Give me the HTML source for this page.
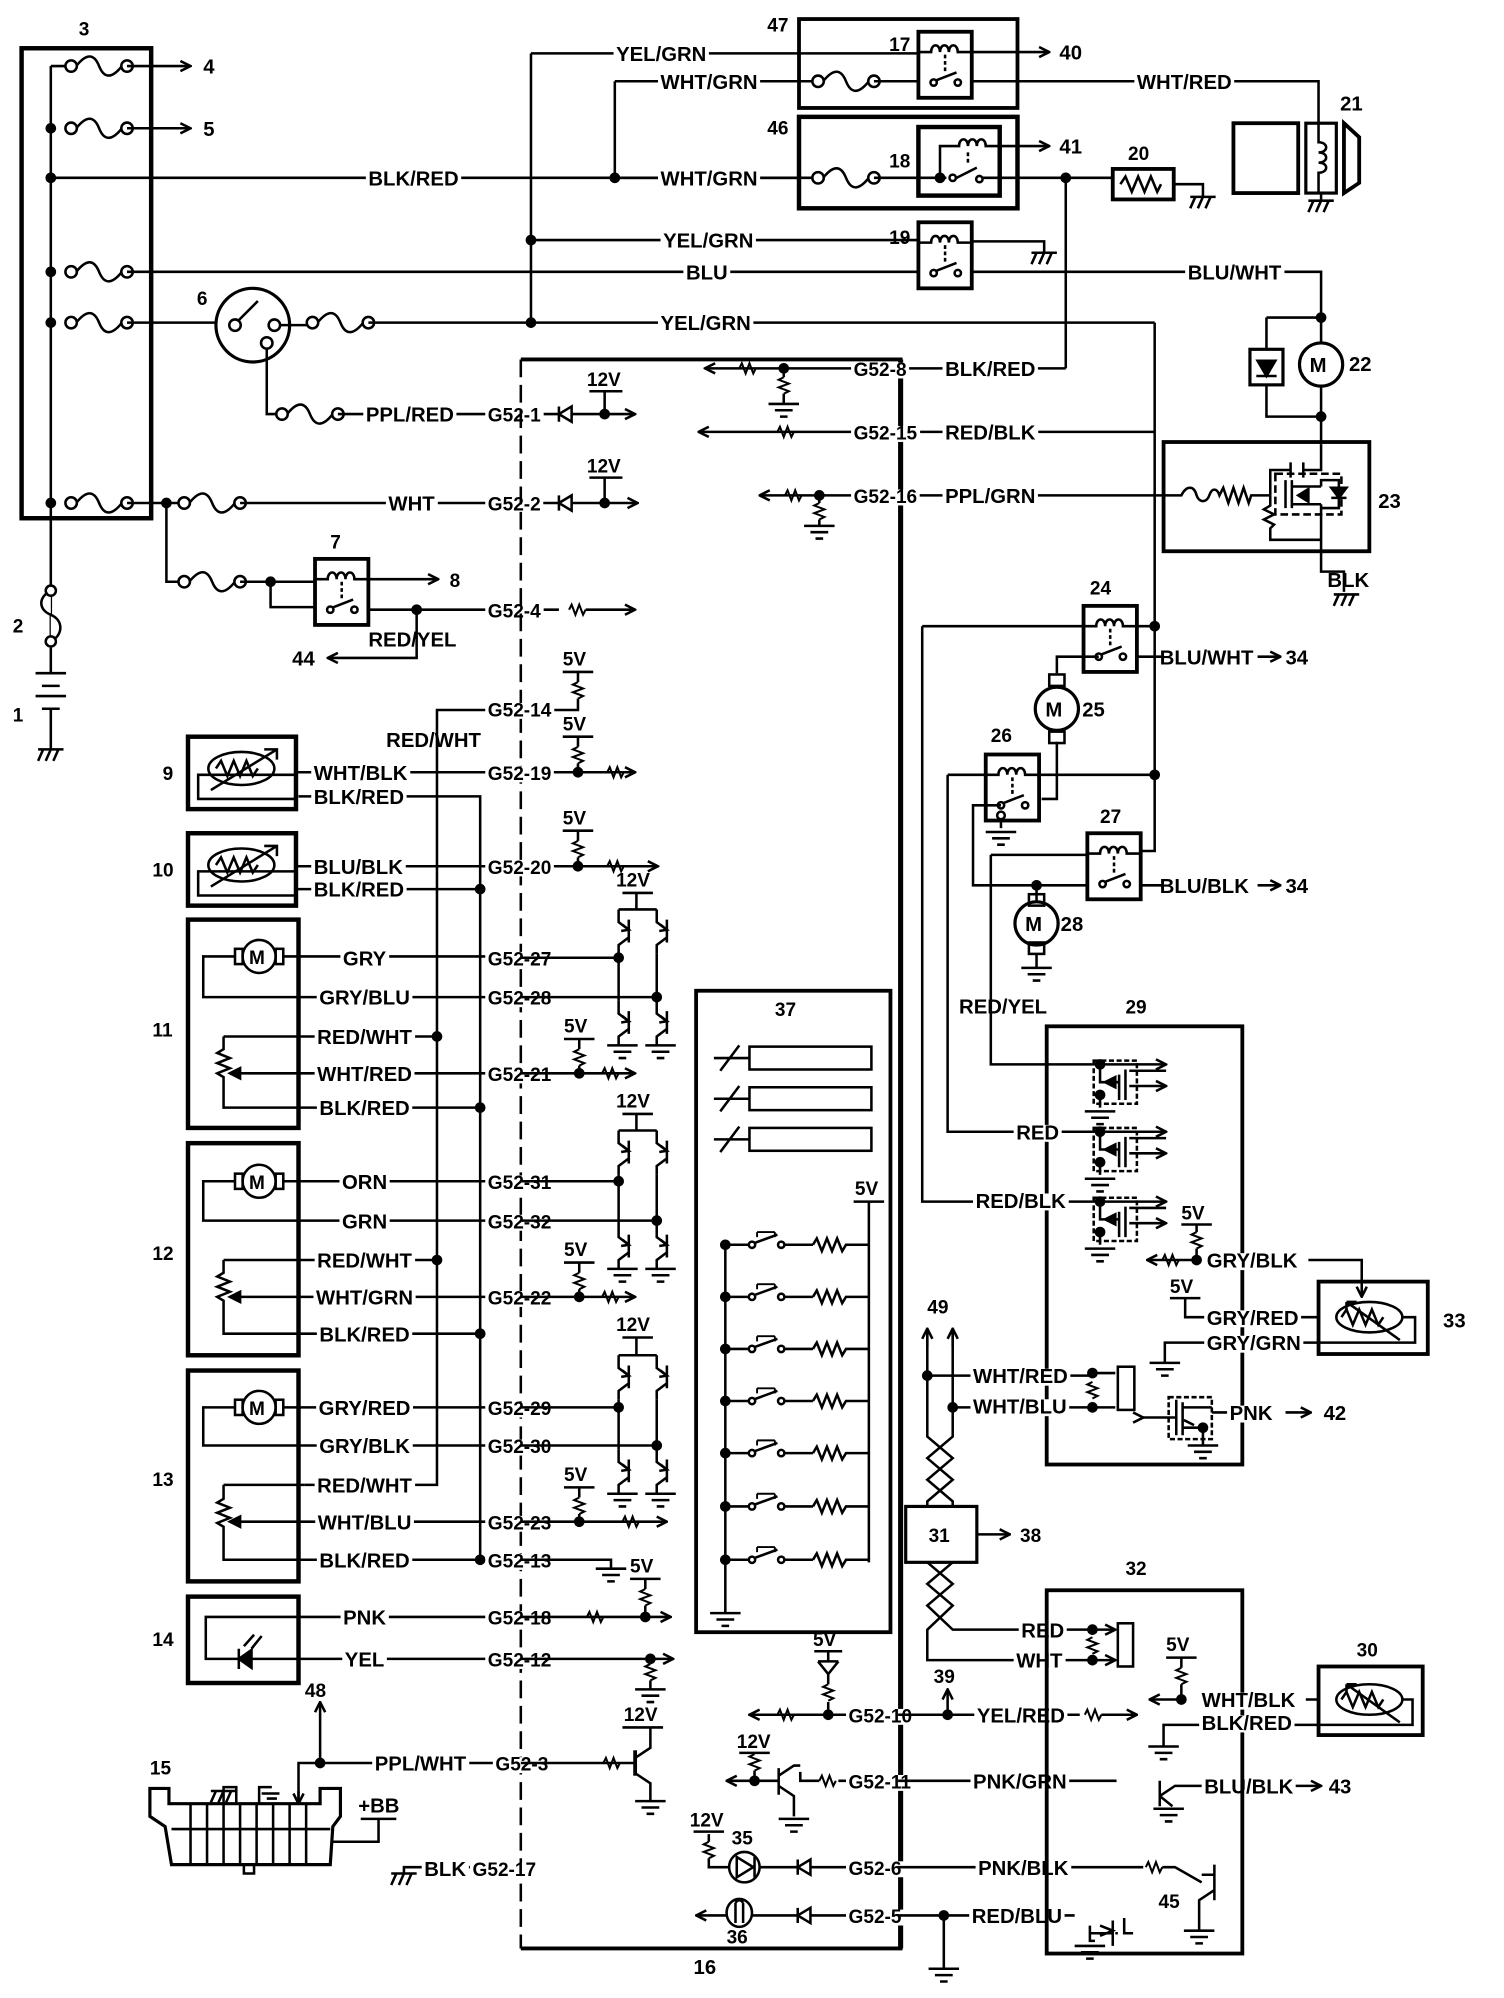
<!DOCTYPE html>
<html><head><meta charset="utf-8"><style>
html,body{margin:0;padding:0;background:#fff}
svg{display:block}
text{font-family:"Liberation Sans",sans-serif;font-weight:bold;font-size:16px;fill:#000;stroke:none}
.s{font-size:15px}
</style></head><body>
<svg id="sv" width="1504" height="1998" viewBox="0 0 1184 1573" preserveAspectRatio="none" xmlns="http://www.w3.org/2000/svg">
<defs>
<marker id="a" markerWidth="10" markerHeight="10" refX="9" refY="5" orient="auto" markerUnits="userSpaceOnUse"><path d="M1 1 L9 5 L1 9" fill="none" stroke="#000" stroke-width="2"/></marker>
<g id="fu"><path d="M4 0 C12 -10 18 -10 22 0 S32 10 40 0" fill="none"/><circle cx="0" cy="0" r="4.5" fill="#fff"/><circle cx="44" cy="0" r="4.5" fill="#fff"/></g>
<g id="rl"><rect x="0" y="0" width="42" height="52" fill="#fff" stroke-width="3"/><path d="M0 16 H10 c0-7 7-7 7 0 c0-7 7-7 7 0 c0-7 7-7 7 0 H42" fill="none"/><path d="M21 18 V32" stroke-dasharray="3 2" fill="none"/><path d="M12 39 L30 32" fill="none"/><circle cx="12" cy="40" r="2.5" fill="#fff"/><circle cx="31" cy="40" r="2.5" fill="#fff"/></g>
<g id="g"><path d="M-12 0 H12 M-7 5 H7 M-3 10 H3" fill="none"/></g>
<g id="cg"><path d="M-10 0 H10 M-6 0 l-4 9 M0 0 l-4 9 M6 0 l-4 9" fill="none"/></g>
<g id="rw"><path d="M0 0 l2 -4 l3 8 l3 -8 l3 8 l2 -4" fill="none" stroke-width="1.6"/></g>
<g id="rv"><path d="M0 0 l-4 2 l8 3 l-8 3 l8 3 l-4 2" fill="none" stroke-width="1.6"/></g>
<g id="dt"><circle r="4.2" fill="#000" stroke="none"/></g>
<g id="sen"><rect x="0" y="0" width="85" height="57" fill="#fff" stroke-width="3.5"/><ellipse cx="42" cy="25" rx="26" ry="13" fill="none"/><path d="M22 25 l4 -6 l5 12 l5 -12 l5 12 l5 -12 l5 12 l4 -6" fill="none"/><path d="M18 42 L70 10 M60 10 h10 v8" fill="none"/><path d="M85 30 H8 V49 H85" fill="none"/></g>
<g id="tr"><path d="M0 0 V10 l8 6 M8 8 V26 M8 22 l-8 6 V35" fill="none"/><path d="M3 12 l5 4 l-6 1" fill="none"/></g>
</defs>
<g stroke="#000" stroke-width="2" fill="none">

<rect x="17" y="38" width="102" height="370" stroke-width="3.5"/>
<text x="62" y="28" class="s">3</text>
<path d="M40 52 V510"/>
<path d="M40 52 H56"/>
<use href="#fu" x="56" y="52"/><path d="M100 52 H150" marker-end="url(#a)"/><text x="160" y="58">4</text>
<use href="#dt" x="40" y="101"/><use href="#fu" x="56" y="101"/><path d="M100 101 H150" marker-end="url(#a)"/><text x="160" y="107">5</text>
<use href="#dt" x="40" y="140"/><path d="M40 140 H628"/>
<use href="#dt" x="40" y="214"/><use href="#fu" x="56" y="214"/><path d="M100 214 H723"/>
<use href="#dt" x="40" y="254"/><use href="#fu" x="56" y="254"/><path d="M100 254 H180"/>
<use href="#dt" x="40" y="396"/><use href="#fu" x="56" y="396"/><path d="M100 396 H140"/>
<circle cx="199" cy="256" r="29" stroke-width="2.5" fill="#fff"/>
<circle cx="185" cy="256" r="4.5"/><path d="M188 252 L203 237"/>
<circle cx="216" cy="256" r="4.5"/><circle cx="210" cy="270" r="4.5"/>
<path d="M221 256 H246"/><use href="#fu" x="246" y="254"/><path d="M290 254 H909"/>
<text x="155" y="240" class="s">6</text>
<path d="M210 275 V326 H222"/><use href="#fu" x="222" y="326"/>
<path d="M266 326 H440"/>
<text x="288" y="332" class="m">PPL/RED</text><text x="384" y="332" class="m s" >G52-1</text>
<use href="#dt" x="131" y="396"/><use href="#fu" x="145" y="396"/><path d="M189 396 H440"/>
<text x="324" y="402" class="m" text-anchor="middle">WHT</text><text x="384" y="402" class="m s">G52-2</text>
<path d="M131 396 V458 H145"/><use href="#fu" x="145" y="458"/><path d="M189 458 H248"/>
<use href="#dt" x="213" y="458"/><path d="M213 458 V478 H248"/>
<use href="#rl" x="248" y="440"/>
<path d="M290 456 H345" marker-end="url(#a)"/><text x="354" y="462" class="s">8</text>
<text x="260" y="432" class="s">7</text>
<path d="M290 480 H440"/><use href="#dt" x="328" y="480"/><use href="#rw" x="448" y="480"/><path d="M461 480 H500" marker-end="url(#a)"/>
<text x="384" y="486" class="m s">G52-4</text>
<path d="M328 480 V518 H258" marker-end="url(#a)"/><text x="230" y="524">44</text>
<text x="290" y="509">RED/YEL</text>
<path d="M40 465 C30 470 30 480 40 484 C50 488 50 500 40 505" fill="#fff"/>
<circle cx="40" cy="465" r="4" fill="#fff"/><circle cx="40" cy="505" r="4" fill="#fff"/>
<path d="M40 510 V530 M28 530 H52 M33 540 H47 M28 548 H52 M33 558 H47 M40 558 V590"/>
<use href="#cg" x="40" y="590"/>
<text x="10" y="498" class="s">2</text><text x="10" y="568" class="s">1</text>

<path d="M418 42 V254"/><use href="#dt" x="418" y="189"/><use href="#dt" x="418" y="254"/>
<path d="M418 42 H723"/>
<text x="485" y="48" class="m">YEL/GRN</text>
<path d="M484 64 V140"/><use href="#dt" x="484" y="140"/>
<path d="M484 64 H640"/><text x="520" y="70" class="m">WHT/GRN</text>
<text x="290" y="146" class="m">BLK/RED</text>
<path d="M484 140 H640"/><text x="520" y="146" class="m">WHT/GRN</text>
<rect x="629" y="15" width="172" height="70" stroke-width="3"/>
<rect x="629" y="92" width="172" height="72" stroke-width="3.5"/>
<text x="604" y="25" class="s">47</text><text x="604" y="106" class="s">46</text>
<use href="#fu" x="644" y="64"/><path d="M688 64 H723"/>
<use href="#fu" x="644" y="140"/><path d="M688 140 H723"/>
<use href="#rl" x="723" y="25"/>
<text x="700" y="40" class="s">17</text>
<path d="M765 41 H826" marker-end="url(#a)"/><text x="834" y="47">40</text>
<path d="M765 64 H1038 V97"/><text x="895" y="70" class="m">WHT/RED</text>
<rect x="723" y="100" width="64" height="54" stroke-width="3.5" fill="#fff"/>
<text x="700" y="132" class="s">18</text>
<use href="#dt" x="740" y="140"/><path d="M723 140 H740 V115 H755 c0-7 7-7 7 0 c0-7 7-7 7 0 c0-7 7-7 7 0 H826" marker-end="url(#a)"/>
<path d="M762 120 V130" stroke-dasharray="3 2"/>
<path d="M740 140 H745 M753 140 L769 132 M772 140 H839"/><circle cx="750" cy="140" r="2.5" fill="#fff"/><circle cx="771" cy="141" r="2.5" fill="#fff"/>
<text x="834" y="121">41</text>
<use href="#dt" x="839" y="140"/><path d="M839 140 H876 M839 140 V290"/>
<rect x="876" y="133" width="48" height="24" stroke-width="3"/>
<path d="M882 145 l4 -6 l5 12 l5 -12 l5 12 l5 -12 l5 12 l3 -6"/>
<path d="M924 145 H947 V155"/><use href="#cg" x="947" y="155"/>
<text x="888" y="126" class="s">20</text>
<rect x="971" y="97" width="51" height="55" stroke-width="3"/>
<rect x="1028" y="97" width="24" height="55" stroke-width="2.5"/>
<path d="M1038 97 V112 c8 0 8 8 0 8 c8 0 8 8 0 8 c8 0 8 8 0 8 V152"/>
<path d="M1040 152 V158"/><use href="#cg" x="1040" y="158"/>
<path d="M1058 97 L1070 108 V144 L1058 152 Z" stroke-width="3"/>
<text x="1055" y="87">21</text>
<use href="#rl" x="723" y="175"/><text x="700" y="192" class="s">19</text>
<path d="M418 189 H723"/><text x="522" y="195" class="m">YEL/GRN</text>
<path d="M765 190 H822 V199"/><use href="#cg" x="822" y="199"/>
<text x="540" y="220" class="m" >BLU</text>
<path d="M765 214 H1040 V250"/><text x="935" y="220" class="m">BLU/WHT</text>
<text x="520" y="260" class="m">YEL/GRN</text>
<use href="#dt" x="1040" y="250"/><path d="M997 250 H1040 V270"/>
<path d="M997 250 V328 H1040"/>
<rect x="984" y="275" width="26" height="28" stroke-width="2.5" fill="#fff"/>
<path d="M989 296 H1005 M997 296 L990 284 H1004 Z" fill="#000"/>
<circle cx="1040" cy="287" r="17" stroke-width="2.5" fill="#fff"/><text x="1031" y="293">M</text>
<path d="M1040 304 V350"/><use href="#dt" x="1040" y="328"/>
<text x="1062" y="292">22</text>
<rect x="916" y="348" width="162" height="86" stroke-width="3"/>
<text x="1085" y="400">23</text>
<path d="M707 390 H930 c4 -8 10 -8 12 0 c2 6 8 6 10 0 c2 -6 6 -6 8 0 l3 -6 l4 12 l4 -12 l4 12 l4 -12 l4 12 l2 -6 H1000"/>
<path d="M1000 390 V370 H1016 M1026 370 H1040 V350 M1016 364 V376 M1026 364 V376"/>
<rect x="1004" y="373" width="52" height="32" stroke-dasharray="6 3"/>
<path d="M1012 378 V400 M1017 378 V400 M1017 383 H1040 M1017 397 H1040 M1040 397 V420 M1040 383 V378 H1054 V400 H1040"/>
<path d="M1048 392 H1060 M1054 392 L1048 384 H1060 Z" fill="#000"/>
<path d="M1022 390 L1030 385 V395 Z" fill="#000"/>
<path d="M1000 390 V398 l-5 3 l8 4 l-8 4 l8 4 l-3 3 V425 H1040"/>
<path d="M1040 420 V450 H1058 V466"/><text x="1045" y="462">BLK</text><use href="#cg" x="1060" y="468"/>

<path d="M410 283 H709 V1534 H410" stroke-width="3"/>
<path d="M410 283 V1534" stroke-width="2" stroke-dasharray="14 6"/>
<path d="M709 283 V1534" stroke-width="4"/>
<text x="546" y="1554">16</text>
<path d="M707 290 H839"/><text x="744" y="296" class="m">BLK/RED</text>
<path d="M700 290 H555" marker-end="url(#a)"/><use href="#rw" x="582" y="290"/><use href="#dt" x="617" y="290"/>
<use href="#rv" x="617" y="297"/><path d="M617 292 V297 M617 310 V318"/><use href="#g" x="617" y="318"/>
<text x="672" y="296" class="m s">G52-8</text>
<path d="M707 340 H909"/><path d="M700 340 H550" marker-end="url(#a)"/><use href="#rw" x="612" y="340"/>
<text x="744" y="346" class="m">RED/BLK</text><text x="672" y="346" class="m s">G52-15</text>
<path d="M700 390 H598" marker-end="url(#a)"/><use href="#rw" x="618" y="390"/><use href="#dt" x="645" y="390"/>
<use href="#rv" x="645" y="396"/><path d="M645 390 V396 M645 409 V414"/><use href="#g" x="645" y="414"/>
<text x="744" y="396" class="m">PPL/GRN</text><text x="672" y="396" class="m s">G52-16</text>
<path d="M440 320 V332 M440 326 L450 320 V332 Z" fill="#fff"/><path d="M450 326 H500" marker-end="url(#a)"/><use href="#dt" x="476" y="326"/><path d="M476 326 V308 M464 308 H490"/><text x="462" y="304" class="s">12V</text>
<path d="M440 390 V402 M440 396 L450 390 V402 Z" fill="#fff"/><path d="M450 396 H502" marker-end="url(#a)"/><use href="#dt" x="476" y="396"/><path d="M476 396 V376 M464 376 H490"/><text x="462" y="372" class="s">12V</text>
<path d="M443 529 H467 M455 529 V537"/><use href="#rv" x="455" y="537"/><path d="M455 550 V559 H344 V1169 H240"/>
<text x="443" y="524" class="s">5V</text>
<text x="384" y="564" class="m s">G52-14</text>
<text x="304" y="588">RED/WHT</text>
<path d="M235 627 H378 V1228"/>
<use href="#sen" x="148" y="580"/><text x="128" y="614" class="s">9</text>
<path d="M233 608 H410"/><text x="247" y="614" class="m">WHT/BLK</text><text x="247" y="633" class="m">BLK/RED</text>
<path d="M410 608 H500" marker-end="url(#a)"/><use href="#dt" x="455" y="608"/><use href="#rw" x="478" y="608"/>
<path d="M443 580 H467 M455 580 V588 M455 601 V608"/><use href="#rv" x="455" y="588"/><text x="443" y="575" class="s">5V</text>
<text x="384" y="614" class="m s">G52-19</text>
<use href="#sen" x="148" y="656"/><text x="120" y="690" class="s">10</text>
<path d="M233 682 H410"/><text x="247" y="688" class="m">BLU/BLK</text>
<path d="M233 700 H378"/><use href="#dt" x="378" y="700"/><text x="247" y="706" class="m">BLK/RED</text>
<path d="M410 682 H518" marker-end="url(#a)"/><use href="#dt" x="455" y="682"/><use href="#rw" x="478" y="682"/>
<path d="M443 654 H467 M455 654 V662 M455 675 V682"/><use href="#rv" x="455" y="662"/><text x="443" y="649" class="s">5V</text>
<text x="384" y="688" class="m s">G52-20</text>

<rect x="148" y="724" width="87" height="164" stroke-width="3.5"/><text x="120" y="816" class="s">11</text>
<circle cx="204" cy="753" r="13"/><text x="196" y="759" class="s">M</text>
<rect x="185" y="747" width="6" height="12"/><rect x="217" y="747" width="6" height="12"/>
<path d="M185 753 H160 V785 H410 M223 753 H410"/>
<text x="287" y="760" class="m" text-anchor="middle">GRY</text><text x="287" y="791" class="m" text-anchor="middle">GRY/BLU</text>
<path d="M176 816 H344"/><use href="#dt" x="344" y="816"/><text x="287" y="822" class="m" text-anchor="middle">RED/WHT</text>
<path d="M176 816 V826 l-5 3 l10 4 l-10 4 l10 4 l-10 4 l5 3 V872 H378 M181 845 H410"/><path d="M181 845 l8 -4 v8 z" fill="#000"/>
<text x="287" y="851" class="m" text-anchor="middle">WHT/RED</text>
<use href="#dt" x="378" y="872"/><text x="287" y="878" class="m" text-anchor="middle">BLK/RED</text>
<text x="384" y="760" class="m s">G52-27</text><text x="384" y="791" class="m s">G52-28</text><text x="384" y="851" class="m s">G52-21</text>
<path d="M410 754 H487 M410 785 H517"/><use href="#dt" x="487" y="754"/><use href="#dt" x="517" y="785"/>
<path d="M490 703 H514 M501 703 V716 H487 M501 716 H517"/><text x="485" y="698" class="s">12V</text>
<use href="#tr" x="487" y="716"/><use href="#tr" x="517" y="716"/>
<path d="M487 751 V788 M517 751 V790"/>
<use href="#tr" x="487" y="788"/><use href="#tr" x="517" y="788"/>
<use href="#g" x="490" y="823"/><use href="#g" x="520" y="823"/>
<path d="M410 845 H500" marker-end="url(#a)"/><use href="#dt" x="456" y="845"/><use href="#rw" x="474" y="845"/>
<path d="M444 818 H468 M456 818 V826 M456 839 V845"/><use href="#rv" x="456" y="826"/><text x="444" y="813" class="s">5V</text>

<rect x="148" y="900" width="87" height="167" stroke-width="3.5"/><text x="120" y="992" class="s">12</text>
<circle cx="204" cy="930" r="13"/><text x="196" y="936" class="s">M</text>
<rect x="185" y="924" width="6" height="12"/><rect x="217" y="924" width="6" height="12"/>
<path d="M185 930 H160 V961 H410 M223 930 H410"/>
<text x="287" y="936" class="m" text-anchor="middle">ORN</text><text x="287" y="967" class="m" text-anchor="middle">GRN</text>
<path d="M176 992 H344"/><use href="#dt" x="344" y="992"/><text x="287" y="998" class="m" text-anchor="middle">RED/WHT</text>
<path d="M176 992 V1002 l-5 3 l10 4 l-10 4 l10 4 l-10 4 l5 3 V1050 H378 M181 1021 H410"/><path d="M181 1021 l8 -4 v8 z" fill="#000"/>
<text x="287" y="1027" class="m" text-anchor="middle">WHT/GRN</text>
<use href="#dt" x="378" y="1050"/><text x="287" y="1056" class="m" text-anchor="middle">BLK/RED</text>
<text x="384" y="936" class="m s">G52-31</text><text x="384" y="967" class="m s">G52-32</text><text x="384" y="1027" class="m s">G52-22</text>
<path d="M410 930 H487 M410 961 H517"/><use href="#dt" x="487" y="930"/><use href="#dt" x="517" y="961"/>
<path d="M490 877 H514 M501 877 V890 H487 M501 890 H517"/><text x="485" y="872" class="s">12V</text>
<use href="#tr" x="487" y="890"/><use href="#tr" x="517" y="890"/>
<path d="M487 925 V964 M517 925 V964"/>
<use href="#tr" x="487" y="964"/><use href="#tr" x="517" y="964"/>
<use href="#g" x="490" y="999"/><use href="#g" x="520" y="999"/>
<path d="M410 1021 H500" marker-end="url(#a)"/><use href="#dt" x="456" y="1021"/><use href="#rw" x="474" y="1021"/>
<path d="M444 994 H468 M456 994 V1002 M456 1015 V1021"/><use href="#rv" x="456" y="1002"/><text x="444" y="989" class="s">5V</text>

<rect x="148" y="1079" width="87" height="166" stroke-width="3.5"/><text x="120" y="1170" class="s">13</text>
<circle cx="204" cy="1108" r="13"/><text x="196" y="1114" class="s">M</text>
<rect x="185" y="1102" width="6" height="12"/><rect x="217" y="1102" width="6" height="12"/>
<path d="M185 1108 H160 V1138 H410 M223 1108 H410"/>
<text x="287" y="1114" class="m" text-anchor="middle">GRY/RED</text><text x="287" y="1144" class="m" text-anchor="middle">GRY/BLK</text>
<path d="M176 1169 H240"/><text x="287" y="1175" class="m" text-anchor="middle">RED/WHT</text>
<path d="M176 1169 V1180 l-5 3 l10 4 l-10 4 l10 4 l-10 4 l5 3 V1228 H410 M181 1198 H410"/><path d="M181 1198 l8 -4 v8 z" fill="#000"/>
<text x="287" y="1204" class="m" text-anchor="middle">WHT/BLU</text>
<use href="#dt" x="378" y="1228"/><text x="287" y="1234" class="m" text-anchor="middle">BLK/RED</text>
<text x="384" y="1114" class="m s">G52-29</text><text x="384" y="1144" class="m s">G52-30</text><text x="384" y="1204" class="m s">G52-23</text><text x="384" y="1234" class="m s">G52-13</text>
<path d="M410 1108 H487 M410 1138 H517"/><use href="#dt" x="487" y="1108"/><use href="#dt" x="517" y="1138"/>
<path d="M490 1053 H514 M501 1053 V1067 H487 M501 1067 H517"/><text x="485" y="1048" class="s">12V</text>
<use href="#tr" x="487" y="1067"/><use href="#tr" x="517" y="1067"/>
<path d="M487 1102 V1141 M517 1102 V1141"/>
<use href="#tr" x="487" y="1141"/><use href="#tr" x="517" y="1141"/>
<use href="#g" x="490" y="1176"/><use href="#g" x="520" y="1176"/>
<path d="M410 1198 H525" marker-end="url(#a)"/><use href="#dt" x="456" y="1198"/><use href="#rw" x="490" y="1198"/>
<path d="M444 1171 H468 M456 1171 V1179 M456 1192 V1198"/><use href="#rv" x="456" y="1179"/><text x="444" y="1166" class="s">5V</text>
<path d="M410 1228 H481 V1235"/><use href="#g" x="481" y="1235"/>

<rect x="148" y="1257" width="87" height="68" stroke-width="3.5"/><text x="120" y="1296" class="s">14</text>
<path d="M235 1273 H162 V1306 H235"/>
<path d="M188 1298 V1314 M188 1306 L198 1299 V1313 Z" fill="#000"/><path d="M192 1296 l8 -9 M198 1298 l8 -10"/>
<path d="M235 1273 H410 M235 1306 H410"/>
<text x="287" y="1279" class="m" text-anchor="middle">PNK</text><text x="287" y="1312" class="m" text-anchor="middle">YEL</text>
<text x="384" y="1279" class="m s">G52-18</text><text x="384" y="1312" class="m s">G52-12</text>
<path d="M410 1273 H528" marker-end="url(#a)"/><use href="#rw" x="462" y="1273"/><use href="#dt" x="508" y="1273"/>
<path d="M496 1243 H520 M508 1243 V1251 M508 1264 V1273"/><use href="#rv" x="508" y="1251"/><text x="496" y="1238" class="s">5V</text>
<path d="M410 1306 H530" marker-end="url(#a)"/><use href="#dt" x="512" y="1306"/>
<path d="M512 1306 V1310"/><use href="#rv" x="512" y="1310"/><path d="M512 1323 V1330"/><use href="#g" x="512" y="1330"/>

<text x="118" y="1397" class="s">15</text>
<path d="M118 1408 H133 V1420 H252 V1408 H268 V1430 L262 1438 L260 1468 H135 L130 1438 L118 1430 Z" stroke-width="2.5" fill="#fff"/>
<path d="M135 1440 H260 M150 1420 V1468 M163 1420 V1468 M176 1420 V1468 M189 1420 V1468 M202 1420 V1468 M215 1420 V1468 M228 1420 V1468 M241 1420 V1468"/>
<path d="M192 1468 V1475 H200 V1468"/>
<path d="M176 1420 V1407 H186 V1420 M204 1420 V1407 H214"/><use href="#cg" x="176" y="1410"/><path d="M206 1412 H220 M210 1416 H218"/>
<path d="M235 1420 V1388 H410"/><path d="M235 1410 V1420" marker-end="url(#a)"/>
<use href="#dt" x="252" y="1388"/><path d="M252 1388 V1340" marker-end="url(#a)"/><text x="240" y="1336" class="s">48</text>
<text x="295" y="1394" class="m">PPL/WHT</text><text x="390" y="1394" class="m s">G52-3</text>
<text x="282" y="1427">+BB</text><path d="M284 1432 H312 M298 1432 V1450 H262"/>
<path d="M410 1388 H500 V1380 M500 1396 l12 8 V1418 M500 1384 l12 -8 V1360 M490 1360 H522"/><use href="#rw" x="475" y="1388"/><path d="M500 1378 V1398" stroke-width="3"/>
<use href="#g" x="512" y="1418"/><text x="491" y="1355" class="s">12V</text>
<use href="#cg" x="318" y="1475"/><path d="M318 1475 V1470 H410"/>
<text x="334" y="1477" class="m">BLK</text><text x="372" y="1477" class="m s">G52-17</text>

<rect x="548" y="780" width="153" height="505" stroke-width="3"/>
<text x="610" y="800" class="s">37</text>
<rect x="590" y="824" width="96" height="18" stroke-width="2"/><path d="M562 833 H590 M567 843 L582 823"/>
<rect x="590" y="856" width="96" height="18" stroke-width="2"/><path d="M562 865 H590 M567 875 L582 855"/>
<rect x="590" y="888" width="96" height="18" stroke-width="2"/><path d="M562 897 H590 M567 907 L582 887"/>
<text x="673" y="941" class="s">5V</text><path d="M672 946 H696 M684 946 V1230"/>
<path d="M571 980 V1270"/><use href="#g" x="571" y="1270"/>
<g id="sw"><path d="M571 980 H590 M590 980 L612 972 M617 980 H640"/><circle cx="592" cy="980" r="2.5" fill="#fff"/><circle cx="615" cy="980" r="2.5" fill="#fff"/><path d="M596 970 V974 M610 970 V974 M596 970 H610" stroke-width="1.5"/><path d="M640 980 l3 -5 l4 10 l4 -10 l4 10 l4 -10 l4 10 l3 -5 H684"/><use href="#dt" x="571" y="980"/></g>
<use href="#sw" y="41"/><use href="#sw" y="82"/><use href="#sw" y="123"/><use href="#sw" y="164"/><use href="#sw" y="206"/><use href="#sw" y="248"/>

<path d="M700 1350 H590" marker-end="url(#a)"/><use href="#rw" x="612" y="1350"/><use href="#dt" x="652" y="1350"/>
<path d="M652 1350 V1340"/><use href="#rv" x="652" y="1326"/><path d="M652 1326 V1318 M644 1308 H660 M644 1308 L652 1318 L660 1308 M652 1300 V1308 M641 1300 H663"/>
<text x="640" y="1296" class="s">5V</text>
<text x="668" y="1356" class="m s">G52-10</text>
<path d="M707 1350 H850"/><use href="#dt" x="746" y="1350"/><path d="M746 1350 V1330" marker-end="url(#a)"/><text x="735" y="1325" class="s">39</text>
<text x="769" y="1356" class="m">YEL/RED</text><use href="#rw" x="854" y="1350"/><path d="M867 1350 H895" marker-end="url(#a)"/>
<path d="M700 1402 H660"/><use href="#rw" x="645" y="1402"/><path d="M645 1402 H630 V1395 M613 1402 H594 M594 1402 H572" marker-end="url(#a)"/>
<path d="M613 1392 V1413 M613 1398 l12 -8 H630 M613 1406 l12 8 V1430" /><use href="#g" x="625" y="1432"/>
<use href="#dt" x="594" y="1402"/><use href="#rv" x="594" y="1381"/><path d="M594 1394 V1402 M582 1380 H606 M594 1380 V1381"/><text x="580" y="1376" class="s">12V</text>
<text x="668" y="1408" class="m s">G52-11</text><path d="M707 1402 H879"/><text x="766" y="1408" class="m">PNK/GRN</text>
<path d="M558 1444 V1450"/><use href="#rv" x="558" y="1450"/><path d="M558 1463 V1470 H574 M598 1470 H700"/><path d="M546 1442 H570"/><text x="543" y="1438" class="s">12V</text>
<circle cx="586" cy="1470" r="12" fill="#fff"/><path d="M580 1462 V1478 L593 1470 Z M594 1462 V1478"/><text x="576" y="1452" class="s">35</text>
<path d="M628 1464 V1476 M628 1470 L638 1464 V1476 Z" fill="#fff"/>
<text x="668" y="1476" class="m s">G52-6</text><path d="M707 1470 H900"/><use href="#rw" x="902" y="1470"/><path d="M915 1470 H925 L946 1482"/><text x="770" y="1476" class="m">PNK/BLK</text>
<path d="M956 1468 V1496 M946 1476 H956 M956 1488 l-12 8 V1520"/><use href="#g" x="944" y="1520"/><text x="912" y="1502" class="s">45</text>
<path d="M700 1508 H548" marker-end="url(#a)"/>
<ellipse cx="582" cy="1506" rx="10" ry="11" fill="#fff"/><path d="M579 1498 V1514 M585 1498 V1514 M579 1498 Q582 1494 585 1498"/><text x="572" y="1530" class="s">36</text>
<path d="M628 1502 V1514 M628 1508 L638 1502 V1514 Z" fill="#fff"/>
<text x="668" y="1514" class="m s">G52-5</text><path d="M707 1508 H846"/><use href="#dt" x="743" y="1508"/><path d="M743 1508 V1550"/><use href="#g" x="743" y="1550"/>
<text x="765" y="1514" class="m">RED/BLU</text>
<path d="M858 1516 V1528 H862 M858 1522 H876 M876 1512 V1532 M866 1516 L876 1520 L866 1524 M878 1522 H880"/><use href="#g" x="858" y="1532"/><path d="M885 1510 V1522 H892"/>

<path d="M909 254 V670 H896"/>
<path d="M726 493 H853 M896 493 H909 M726 493 V946 H860"/><use href="#dt" x="909" y="493"/>
<use href="#rl" x="853" y="477"/><text x="858" y="468" class="s">24</text>
<path d="M896 517 H915"/><text x="913" y="523">BLU/WHT</text><path d="M990 517 H1008" marker-end="url(#a)"/><text x="1012" y="523">34</text>
<path d="M865 517 H832 V530 M832 584 V629 H820"/>
<circle cx="832" cy="558" r="17" stroke-width="2.5" fill="#fff"/><text x="823" y="564">M</text><rect x="826" y="531" width="12" height="9"/><rect x="826" y="576" width="12" height="9"/>
<text x="852" y="564">25</text>
<use href="#rl" x="776" y="594"/><text x="780" y="584" class="s">26</text>
<path d="M746 610 H776 M818 610 H909 M746 610 V891 H860"/><use href="#dt" x="909" y="610"/>
<path d="M788 634 H766 V697 H862"/><path d="M788 640 V652"/><circle cx="788" cy="642" r="3" fill="#fff"/><use href="#g" x="788" y="655"/>
<use href="#rl" x="856" y="656"/><text x="866" y="648" class="s">27</text>
<path d="M780 673 H856 M780 673 V838 H860"/>
<path d="M898 697 H915"/><text x="913" y="703">BLU/BLK</text><path d="M990 697 H1008" marker-end="url(#a)"/><text x="1012" y="703">34</text>
<use href="#dt" x="816" y="697"/><path d="M816 697 V712"/>
<circle cx="816" cy="727" r="17" stroke-width="2.5" fill="#fff"/><text x="807" y="733">M</text><rect x="810" y="704" width="12" height="9"/><rect x="810" y="742" width="12" height="9"/>
<path d="M816 751 V762"/><use href="#g" x="816" y="762"/><text x="835" y="733">28</text>
<text x="755" y="798">RED/YEL</text>

<rect x="824" y="808" width="154" height="345" stroke-width="3"/>
<text x="886" y="798" class="s">29</text>
<text x="800" y="897" class="m">RED</text><text x="768" y="951" class="m">RED/BLK</text>
<g id="fet"><rect x="861" y="835" width="34" height="34" stroke-dasharray="4 2" fill="#fff"/><path d="M862 838 H866 V852 H882 M866 858 V862 M866 862 V872 M886 842 V866 M881 846 V866 M889 843 H918" /><path d="M870 852 l8 -4 v8 z" fill="#000"/><path d="M889 855 H918" marker-end="url(#a)"/><path d="M866 838 H918" marker-end="url(#a)"/><use href="#dt" x="866" y="838"/><use href="#dt" x="866" y="862"/><use href="#g" x="866" y="875"/></g>
<use href="#fet" y="53"/><use href="#fet" y="108"/>
<path d="M930 964 H954 M942 964 V970"/><use href="#rv" x="942" y="970"/><path d="M942 983 V992"/><text x="930" y="960" class="s">5V</text>
<path d="M942 992 H903" marker-end="url(#a)"/><use href="#rw" x="915" y="992"/><use href="#dt" x="942" y="992"/>
<text x="950" y="998" class="m">GRY/BLK</text><path d="M1030 992 H1072 V1021" marker-end="url(#a)"/>
<rect x="1038" y="1009" width="86" height="57" stroke-width="3"/>
<ellipse cx="1078" cy="1037" rx="26" ry="12"/><path d="M1056 1037 l4 -6 l5 12 l5 -12 l5 12 l5 -12 l5 12 l4 -6"/><path d="M1060 1025 l42 30 M1060 1025 h8 M1060 1025 v8"/>
<path d="M1104 1037 H1114 V1057 H1038"/>
<text x="1136" y="1045">33</text>
<path d="M921 1022 H945 M933 1022 V1037 H1038"/><text x="921" y="1018" class="s">5V</text>
<text x="950" y="1043" class="m">GRY/RED</text>
<path d="M1038 1057 H917 V1073"/><use href="#g" x="917" y="1073"/><text x="950" y="1063" class="m">GRY/GRN</text>
<rect x="880" y="1076" width="13" height="34" stroke-width="2"/>
<use href="#dt" x="860" y="1081"/><use href="#dt" x="860" y="1108"/><path d="M860 1081 H878 M860 1108 H878"/>
<use href="#rv" x="860" y="1088"/>
<rect x="920" y="1100" width="34" height="33" stroke-dasharray="4 2" fill="#fff"/><path d="M926 1102 V1130 M931 1104 V1130 M931 1108 H954 M931 1124 H947 V1138 M926 1116 H898" /><path d="M898 1116 H900" marker-end="url(#a)"/><path d="M940 1122 l-8 -4"/><use href="#dt" x="947" y="1124"/><use href="#g" x="947" y="1138"/>
<path d="M954 1112 H968"/><text x="968" y="1118" class="m">PNK</text><path d="M1012 1112 H1032" marker-end="url(#a)"/><text x="1042" y="1118">42</text>
<path d="M730 1083 V1046 M750 1108 V1046"/><path d="M730 1060 V1046" marker-end="url(#a)"/><path d="M750 1060 V1046" marker-end="url(#a)"/>
<text x="730" y="1034" class="s">49</text>
<use href="#dt" x="730" y="1083"/><use href="#dt" x="750" y="1108"/>
<path d="M730 1083 H860 M750 1108 H860"/>
<text x="766" y="1089" class="m">WHT/RED</text><text x="766" y="1113" class="m">WHT/BLU</text>
<path d="M730 1083 V1131 L750 1148 L730 1165 L750 1182 V1186 M750 1108 V1131 L730 1148 L750 1165 L730 1182 V1186"/>
<rect x="713" y="1186" width="56" height="44" stroke-width="2.5" fill="#fff"/><text x="731" y="1214" class="s">31</text>
<path d="M769 1208 H795" marker-end="url(#a)"/><text x="803" y="1214" class="s">38</text>
<path d="M730 1230 L750 1247 L730 1264 L750 1283 H860 M750 1230 L730 1247 L750 1264 L730 1283 V1307 H860"/>
<text x="804" y="1289" class="m">RED</text><text x="800" y="1313" class="m">WHT</text>
<use href="#dt" x="860" y="1283"/><use href="#dt" x="860" y="1307"/><use href="#rv" x="860" y="1289"/>
<path d="M862 1283 H878" marker-end="url(#a)"/><path d="M862 1307 H878" marker-end="url(#a)"/>
<rect x="880" y="1278" width="12" height="34" stroke-width="2"/>
<rect x="824" y="1252" width="154" height="286" stroke-width="3"/>
<text x="886" y="1240" class="s">32</text>
<path d="M918 1305 H942 M930 1305 V1313"/><use href="#rv" x="930" y="1313"/><path d="M930 1326 V1338"/><text x="918" y="1300" class="s">5V</text>
<path d="M930 1338 H905" marker-end="url(#a)"/><use href="#dt" x="930" y="1338"/>
<text x="946" y="1344" class="m">WHT/BLK</text><path d="M1028 1338 H1038"/>
<rect x="1038" y="1312" width="82" height="54" stroke-width="3"/><text x="1068" y="1304" class="s">30</text>
<ellipse cx="1078" cy="1338" rx="26" ry="12"/><path d="M1056 1338 l4 -6 l5 12 l5 -12 l5 12 l5 -12 l5 12 l4 -6"/><path d="M1060 1326 l42 30 M1060 1326 h8 M1060 1326 v8"/>
<path d="M1104 1338 H1112 V1358 H1038"/>
<path d="M1038 1358 H916 V1375"/><use href="#g" x="916" y="1375"/><text x="946" y="1362" class="m">BLK/RED</text>
<path d="M946 1406 H925 l-12 8 M913 1402 V1422 M913 1414 l10 8"/><use href="#g" x="920" y="1424"/>
<text x="948" y="1412">BLU/BLK</text><path d="M1020 1406 H1040" marker-end="url(#a)"/><text x="1046" y="1412">43</text>
</g>
</svg>
<script>
(function(){
  var ns="http://www.w3.org/2000/svg";
  document.querySelectorAll('text.m').forEach(function(t){
    try{
      var b=t.getBBox();
      var r=document.createElementNS(ns,'rect');
      r.setAttribute('x',b.x-2);r.setAttribute('y',b.y+2);
      r.setAttribute('width',b.width+4);r.setAttribute('height',b.height-4);
      r.setAttribute('fill','#fff');r.setAttribute('stroke','none');
      t.parentNode.insertBefore(r,t);
    }catch(e){}
  });
})();
</script>
</body></html>
